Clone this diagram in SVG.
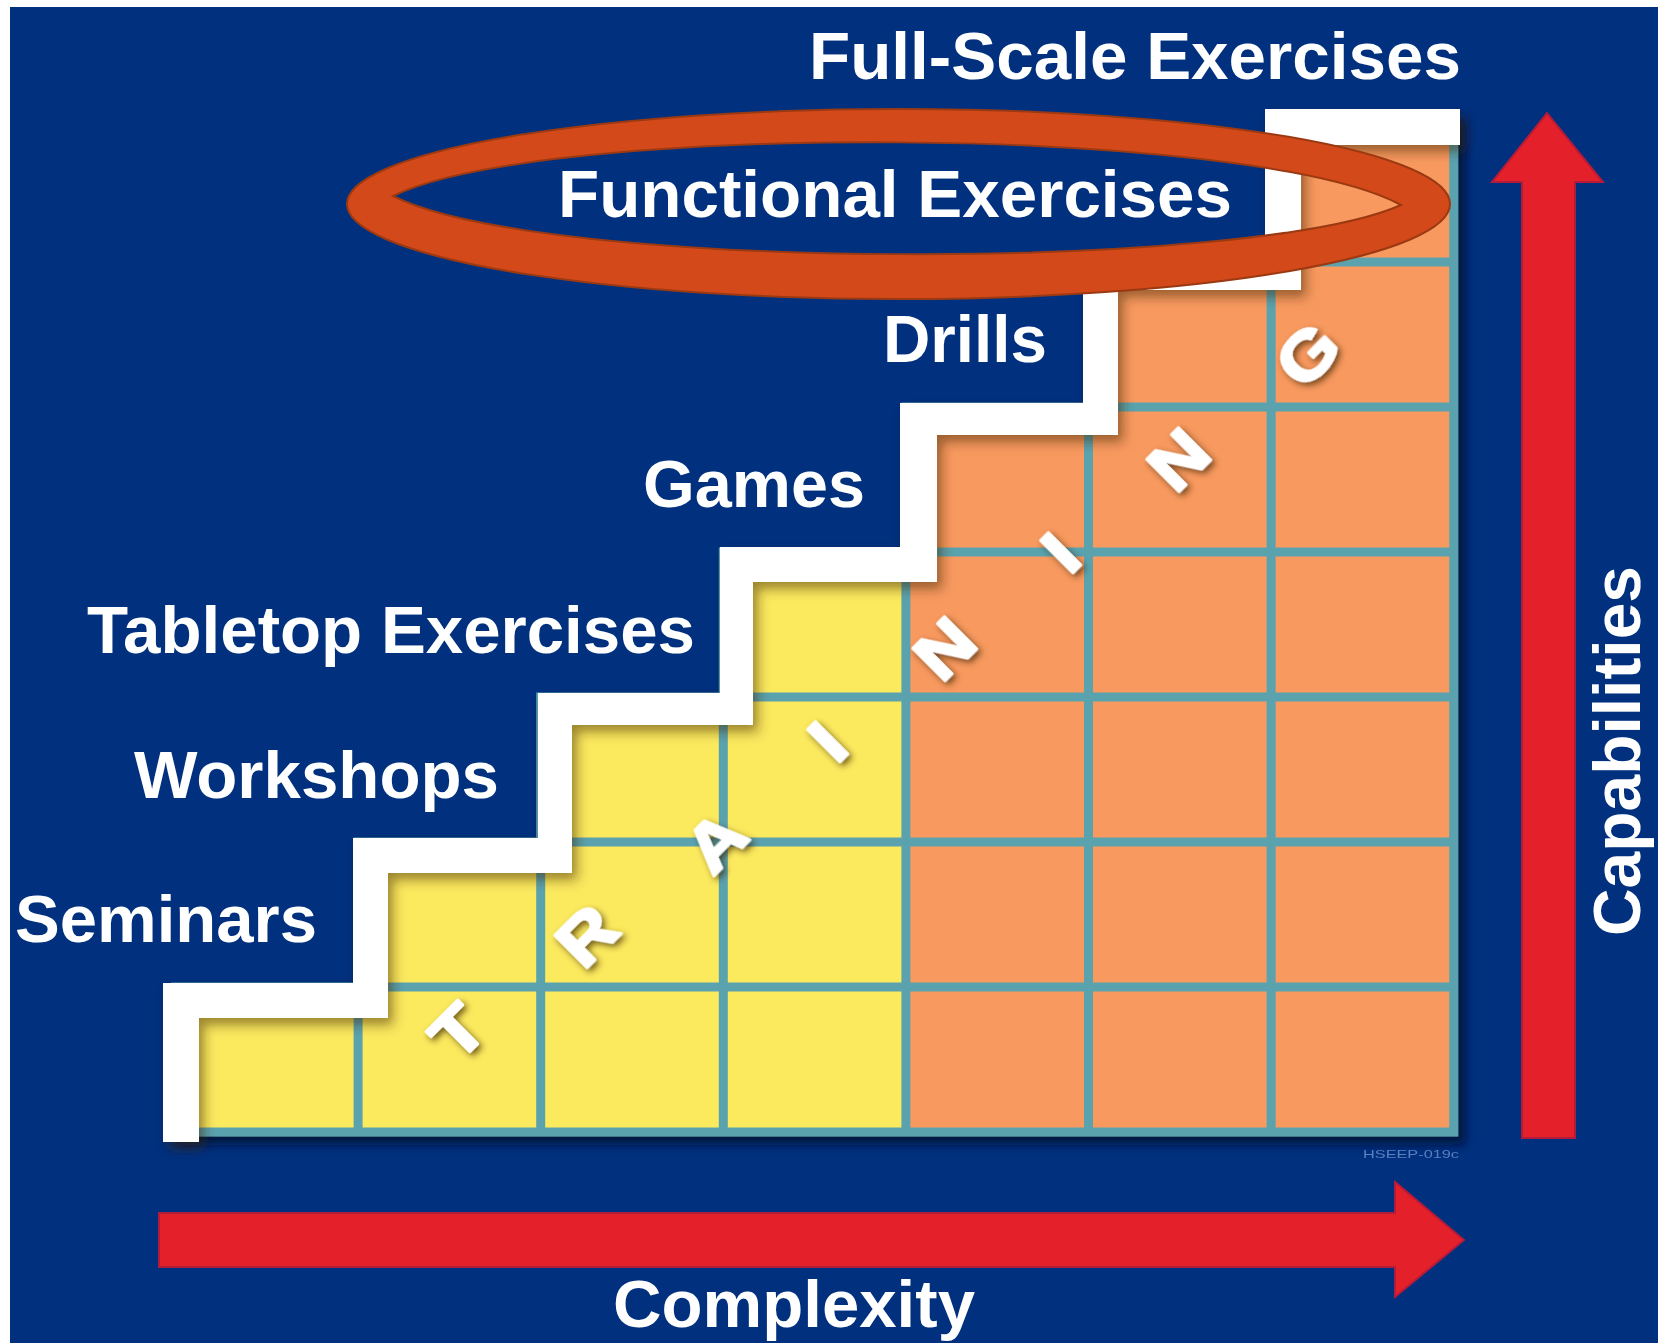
<svg xmlns="http://www.w3.org/2000/svg" width="1658" height="1343" viewBox="0 0 1658 1343">
<style>
.lbl{font-family:"Liberation Sans",Arial,sans-serif;font-weight:bold;font-size:67px;fill:#ffffff}
.ltr{font-family:"Liberation Sans",Arial,sans-serif;font-weight:bold;font-size:66px;fill:#ffffff;stroke:#ffffff;stroke-width:2.5;stroke-linejoin:round;text-anchor:middle}
.yc{fill:#fbea5e}
.oc{fill:#f89a5f}
.arrow{fill:#e4202a;stroke:#b31b3a;stroke-width:2}
</style>
<defs>
<filter id="gridShadow" x="-10%" y="-10%" width="130%" height="130%">
<feDropShadow dx="7" dy="8" stdDeviation="5" flood-color="#000a30" flood-opacity="0.8"/>
</filter>
<filter id="stairShadow" x="-10%" y="-10%" width="130%" height="130%">
<feDropShadow dx="5" dy="7" stdDeviation="6" flood-color="#3a2200" flood-opacity="0.5"/>
</filter>
<filter id="ltrShadow" x="-50%" y="-50%" width="200%" height="200%">
<feDropShadow dx="3" dy="3" stdDeviation="3" flood-color="#3a2000" flood-opacity="0.7"/>
</filter>
</defs>
<rect x="0" y="0" width="1658" height="1343" fill="#ffffff"/>
<rect x="10" y="7" width="1648" height="1336" fill="#00307e"/>

<g id="grid">
<path d="M171,1136.5 V982.5 H353.6 V837.5 H536.2 V692.5 H718.8 V547.5 H901.4 V402.5 H1084 V257.5 H1266.6 V112.5 H1458.2 V1136.5 Z" fill="#5aa3ae" filter="url(#gridShadow)"/>
<g id="yellow-cells">
<rect class="yc" x="180" y="991.5" width="173.6" height="136"/>
<rect class="yc" x="362.6" y="991.5" width="173.6" height="136"/>
<rect class="yc" x="362.6" y="846.5" width="173.6" height="136"/>
<rect class="yc" x="545.2" y="991.5" width="173.6" height="136"/>
<rect class="yc" x="545.2" y="846.5" width="173.6" height="136"/>
<rect class="yc" x="545.2" y="701.5" width="173.6" height="136"/>
<rect class="yc" x="727.8" y="991.5" width="173.6" height="136"/>
<rect class="yc" x="727.8" y="846.5" width="173.6" height="136"/>
<rect class="yc" x="727.8" y="701.5" width="173.6" height="136"/>
<rect class="yc" x="727.8" y="556.5" width="173.6" height="136"/>
</g>
<g id="orange-cells">
<rect class="oc" x="910.4" y="991.5" width="173.6" height="136"/>
<rect class="oc" x="910.4" y="846.5" width="173.6" height="136"/>
<rect class="oc" x="910.4" y="701.5" width="173.6" height="136"/>
<rect class="oc" x="910.4" y="556.5" width="173.6" height="136"/>
<rect class="oc" x="910.4" y="411.5" width="173.6" height="136"/>
<rect class="oc" x="1093" y="991.5" width="173.6" height="136"/>
<rect class="oc" x="1093" y="846.5" width="173.6" height="136"/>
<rect class="oc" x="1093" y="701.5" width="173.6" height="136"/>
<rect class="oc" x="1093" y="556.5" width="173.6" height="136"/>
<rect class="oc" x="1093" y="411.5" width="173.6" height="136"/>
<rect class="oc" x="1093" y="266.5" width="173.6" height="136"/>
<rect class="oc" x="1275.6" y="991.5" width="173.6" height="136"/>
<rect class="oc" x="1275.6" y="846.5" width="173.6" height="136"/>
<rect class="oc" x="1275.6" y="701.5" width="173.6" height="136"/>
<rect class="oc" x="1275.6" y="556.5" width="173.6" height="136"/>
<rect class="oc" x="1275.6" y="411.5" width="173.6" height="136"/>
<rect class="oc" x="1275.6" y="266.5" width="173.6" height="136"/>
<rect class="oc" x="1275.6" y="121.5" width="173.6" height="136"/>
</g>
</g>

<g id="staircase">
<path d="M163,1142 V983 H353 V838 H538 V693 H720 V547 H900 V403 H1083 V258 H1265 V109 H1460 V145 H1301 V290 H1118 V435 H937 V582 H753 V725 H572 V873 H388 V1018 H199 V1142 Z" fill="#ffffff" filter="url(#stairShadow)"/>
</g>

<g id="training" filter="url(#ltrShadow)">
<text class="ltr" transform="translate(457,1031) rotate(-45) scale(1.15,1)" y="24">T</text>
<text class="ltr" transform="translate(586,935) rotate(-45) scale(1.15,1)" y="24">R</text>
<text class="ltr" transform="translate(715,841) rotate(-45) scale(1.15,1)" y="24">A</text>
<text class="ltr" transform="translate(827,741) rotate(-45) scale(1.15,1)" y="24">I</text>
<text class="ltr" transform="translate(944,648) rotate(-45) scale(1.15,1)" y="24">N</text>
<text class="ltr" transform="translate(1060,552) rotate(-45) scale(1.15,1)" y="24">I</text>
<text class="ltr" transform="translate(1178,459) rotate(-45) scale(1.15,1)" y="24">N</text>
<text class="ltr" transform="translate(1307,354) rotate(-45) scale(1.15,1)" y="24">G</text>
</g>

<g id="connectors">
<path id="complexity-arrow" class="arrow" d="M159,1213 H1395 V1182 L1464,1240 L1395,1297 V1267 H159 Z"/>
<path id="capabilities-arrow" class="arrow" d="M1522,1138 V182 H1492 L1547,113 L1603,182 H1575 V1138 Z"/>
</g>

<g id="node-full-scale"><text class="lbl" x="809" y="79" textLength="652" lengthAdjust="spacingAndGlyphs">Full-Scale Exercises</text></g>
<g id="node-functional"><text class="lbl" x="558" y="217" textLength="674" lengthAdjust="spacingAndGlyphs">Functional Exercises</text></g>
<g id="node-drills"><text class="lbl" x="883" y="362" textLength="164" lengthAdjust="spacingAndGlyphs">Drills</text></g>
<g id="node-games"><text class="lbl" x="643" y="507" textLength="222" lengthAdjust="spacingAndGlyphs">Games</text></g>
<g id="node-tabletop"><text class="lbl" x="87" y="653" textLength="608" lengthAdjust="spacingAndGlyphs">Tabletop Exercises</text></g>
<g id="node-workshops"><text class="lbl" x="134" y="798" textLength="365" lengthAdjust="spacingAndGlyphs">Workshops</text></g>
<g id="node-seminars"><text class="lbl" x="15" y="942" textLength="302" lengthAdjust="spacingAndGlyphs">Seminars</text></g>
<g id="label-complexity"><text class="lbl" x="613" y="1327" textLength="362" lengthAdjust="spacingAndGlyphs">Complexity</text></g>
<g id="label-capabilities"><text class="lbl" transform="translate(1640,936) rotate(-90)" x="0" y="0" textLength="370" lengthAdjust="spacingAndGlyphs">Capabilities</text></g>
<g id="label-code"><text x="1363" y="1158" font-family="Liberation Sans,Arial,sans-serif" font-size="11" fill="#5b7fbf" textLength="96" lengthAdjust="spacingAndGlyphs">HSEEP-019c</text></g>

<g id="highlight-ring">
<path fill="#d4491a" stroke="#9b3a12" stroke-width="2" fill-rule="evenodd" d="M347,204 A551.5,95 0 1 0 1450,204 A551.5,95 0 1 0 347,204 Z M393,196 C543,122 1251,124 1401,205 C1251,272 543,272 393,196 Z"/>
</g>
</svg>
